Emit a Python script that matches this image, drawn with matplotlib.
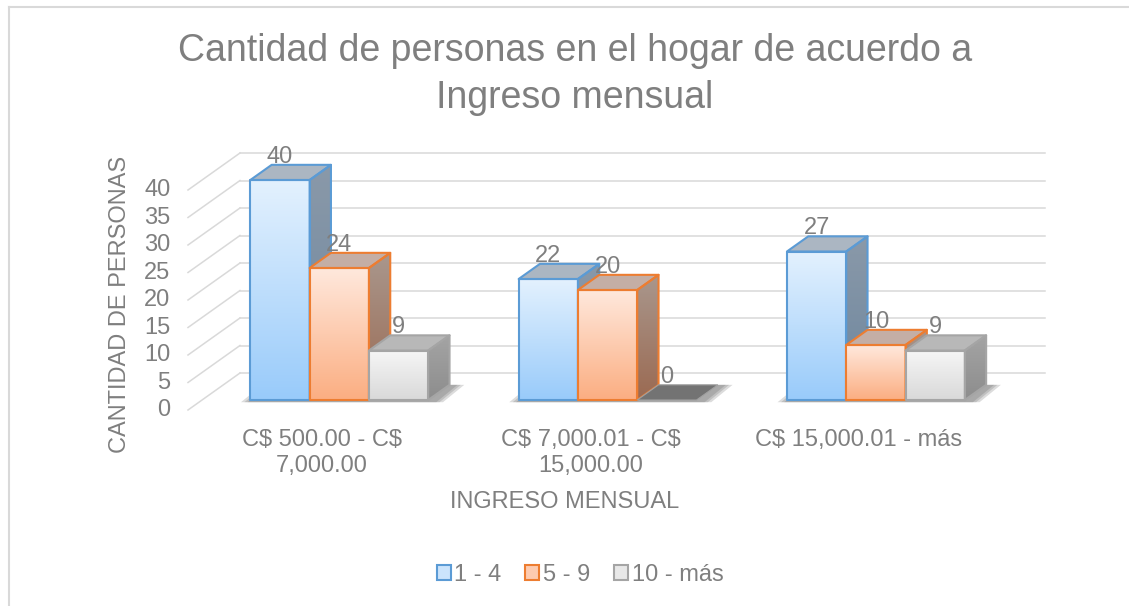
import numpy as np
import matplotlib
matplotlib.use("Agg")
import matplotlib.pyplot as plt
from matplotlib.patches import Polygon, Patch
from matplotlib.lines import Line2D
from matplotlib.colors import to_rgb

plt.rcParams["font.family"] = ["Liberation Sans", "DejaVu Sans"]

# datos
categories = ["C$ 500.00 - C$\n7,000.00", "C$ 7,000.01 - C$\n15,000.00", "C$ 15,000.01 - más"]
series = ["1 - 4", "5 - 9", "10 - más"]
values_1_4 = [40, 22, 27]
values_5_9 = [24, 20, 10]
values_10_mas = [9, 0, 9]
y_ticks = [0, 5, 10, 15, 20, 25, 30, 35, 40]

title = "Cantidad de personas en el hogar de acuerdo a\nIngreso mensual"
x_title = "INGRESO MENSUAL"
y_title = "CANTIDAD DE PERSONAS"

# estilos
edge = ["#5b9bd5", "#ed7d31", "#a5a5a5"]
front_top = ["#e3f1fe", "#ffe8dc", "#f6f6f6"]
front_bot = ["#99cbfa", "#fbae82", "#d9d9d9"]
top_col = ["#abb6c2", "#c4aea5", "#b8b8b8"]
side_top = ["#8a99a9", "#a9978d", "#a4a4a4"]
side_bot = ["#6d869e", "#9b6a52", "#8d8d8d"]
legend_fill = ["#cbe4fc", "#fdcbb0", "#e8e8e8"]
txt = "#7f7f7f"
grid = "#d9d9d9"

W, H = 1129, 606
fig = plt.figure(figsize=(W / 100, H / 100), dpi=100)
ax = fig.add_axes([0, 0, 1, 1])
ax.axis("off")

# proyeccion oblicua: x en categorias, y en valores
px_x = 268.3   # px por categoria
px_y = 5.5     # px por unidad
x0_px, y0_px = 188, 410
DX, DY = 52 / px_x, 37 / px_y   # profundidad del piso
F0, F1 = 0.27, 0.68             # profundidad de las barras
bw = 0.221
off = 0.18


def grad_fill(pts, c_top, c_bot, z):
    poly = Polygon(pts, closed=True, facecolor="none", edgecolor="none")
    ax.add_patch(poly)
    xs = [p[0] for p in pts]
    ys = [p[1] for p in pts]
    t = np.linspace(0, 1, 64)[:, None]
    img = (1 - t) * np.array(to_rgb(c_top)) + t * np.array(to_rgb(c_bot))
    im = ax.imshow(img[:, None, :], extent=(min(xs), max(xs), min(ys), max(ys)),
                   origin="upper", aspect="auto", zorder=z, interpolation="bilinear")
    im.set_clip_path(poly)


# paredes: lineas de division
for v in y_ticks:
    ax.plot([0, DX], [v, v + DY], color=grid, lw=1.1, zorder=1)
    ax.plot([DX, 3 + DX], [v + DY, v + DY], color=grid, lw=1.1, zorder=1)
    ax.text(-0.065, v, str(v), ha="right", va="center", fontsize=17, color=txt)

all_vals = [values_1_4, values_5_9, values_10_mas]
z = 5
for g in range(len(categories)):
    # sombra en el piso
    gx0 = g + off
    gx1 = g + off + 3 * bw
    for k, m in enumerate([0.035, 0.022, 0.01]):
        shadow = [(gx0 - m + F0 * DX, F0 * DY - 0.4), (gx1 + m + 0.02 + F0 * DX, F0 * DY - 0.4),
                  (gx1 + m + 0.02 + F1 * DX, F1 * DY), (gx0 - m + F1 * DX, F1 * DY)]
        ax.add_patch(Polygon(shadow, closed=True, facecolor="#505050", edgecolor="none",
                             alpha=0.2, zorder=3))
    for i in range(len(series)):
        v = all_vals[i][g]
        xa = g + off + i * bw
        xb = xa + bw
        top = [(xa + F0 * DX, v + F0 * DY), (xb + F0 * DX, v + F0 * DY),
               (xb + F1 * DX, v + F1 * DY), (xa + F1 * DX, v + F1 * DY)]
        if v == 0:
            ax.add_patch(Polygon(top, closed=True, facecolor="#737373", edgecolor="#a0a0a0",
                                 lw=0.8, zorder=z))
        else:
            front = [(xa + F0 * DX, F0 * DY), (xb + F0 * DX, F0 * DY),
                     (xb + F0 * DX, v + F0 * DY), (xa + F0 * DX, v + F0 * DY)]
            side = [(xb + F0 * DX, F0 * DY), (xb + F1 * DX, F1 * DY),
                    (xb + F1 * DX, v + F1 * DY), (xb + F0 * DX, v + F0 * DY)]
            grad_fill(front, front_top[i], front_bot[i], z)
            grad_fill(side, side_top[i], side_bot[i], z)
            ax.add_patch(Polygon(top, closed=True, facecolor=top_col[i], edgecolor="none", zorder=z))
            for pts in (front, side, top):
                ax.add_patch(Polygon(pts, closed=True, facecolor="none", edgecolor=edge[i],
                                     lw=1.5, joinstyle="round", zorder=z + 0.5))
        ax.text(xa + bw / 2 + F0 * DX, v + F1 * DY + 1.5, str(v), ha="center", va="center",
                fontsize=17, color=txt, zorder=50)
        z += 1
    ax.text(g + 0.5, -3.4, categories[g], ha="center", va="top", fontsize=17,
            color=txt, linespacing=1.25, parse_math=False)

ax.set_xlim(-x0_px / px_x, (W - x0_px) / px_x)
ax.set_ylim((y0_px - H) / px_y, y0_px / px_y)

# titulos
fig.text(575 / W, 1 - 108 / H, title, ha="center", va="baseline", fontsize=27,
         color=txt, linespacing=1.39)
fig.text(565 / W, 1 - 502 / H, x_title, ha="center", va="center", fontsize=17, color=txt)
fig.text(120 / W, 1 - 304 / H, y_title, ha="center", va="center", rotation=90,
         fontsize=17, color=txt)

handles = [Patch(facecolor=legend_fill[i], edgecolor=edge[i], lw=1.5) for i in range(3)]
fig.legend(handles, series, loc="center", bbox_to_anchor=(580 / W, 1 - 575 / H), ncol=3,
           frameon=False, fontsize=17, handlelength=0.6, handleheight=0.6,
           handletextpad=0.15, columnspacing=1.0, labelcolor=txt)

# borde del grafico
fig.add_artist(Line2D([8.5 / W, 8.5 / W], [0, 1 - 7 / H], transform=fig.transFigure,
                      color=grid, lw=1.5))
fig.add_artist(Line2D([8.5 / W, 1], [1 - 7 / H, 1 - 7 / H], transform=fig.transFigure,
                      color=grid, lw=1.5))

fig.savefig("out.png", dpi=100)
